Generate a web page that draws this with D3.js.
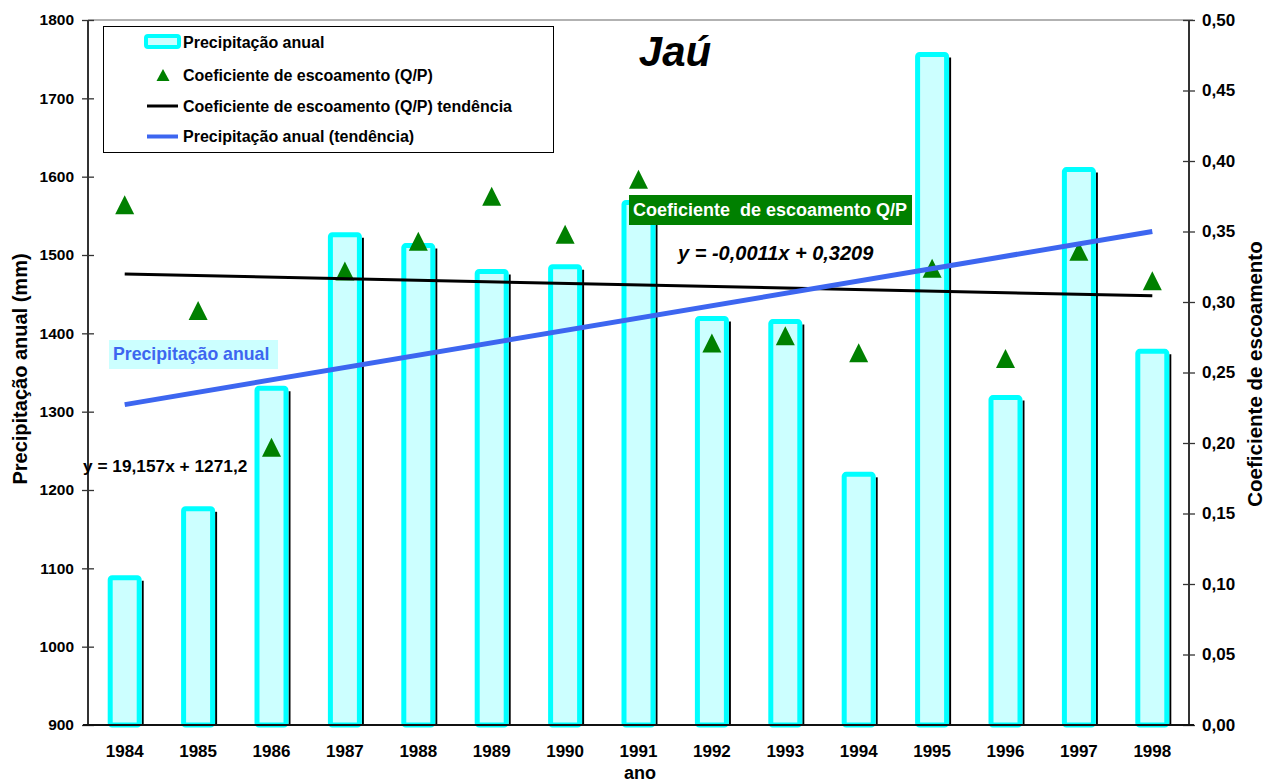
<!DOCTYPE html>
<html><head><meta charset="utf-8">
<script src="https://cdn.jsdelivr.net/npm/d3@7"></script>
<style>
body{margin:0;background:#fff}
svg{display:block;font-family:"Liberation Sans",Arial,sans-serif;font-weight:bold}
</style>
</head><body>
<svg id="chart" width="1266" height="784"></svg>
<script>
// ---- data ----
const years = [1984,1985,1986,1987,1988,1989,1990,1991,1992,1993,1994,1995,1996,1997,1998];
const precipitation = [1088,1176,1330,1526,1512,1479,1485,1567,1419,1415,1220,1756,1318,1609,1377];
const coefficient = [0.369,0.294,0.197,0.322,0.343,0.375,0.348,0.387,0.271,0.276,0.264,0.324,0.260,0.336,0.315];
const precipTicks = [900,1000,1100,1200,1300,1400,1500,1600,1700,1800];
const coefTicks = [0,0.05,0.10,0.15,0.20,0.25,0.30,0.35,0.40,0.45,0.50];
const coefTrendSlope = -0.0011, coefTrendIntercept = 0.3209;
const precipTrendEnds = [1309, 1530];   // trend line as drawn (first / last year)
const legendLabels = ["Precipitação anual","Coeficiente de escoamento (Q/P)","Coeficiente de escoamento (Q/P) tendência","Precipitação anual (tendência)"];

// ---- layout ----
const L = 88, R = 1189, T = 20, B = 725;
const cyan = "#00ffff", lightCyan = "#ccffff", green = "#008000", blue = "#3d66f0";
const svg = d3.select("#chart");

const x = d3.scaleBand().domain(years).range([L, R]).padding(0);
const yL = d3.scaleLinear().domain([900, 1800]).range([B, T]);
const yR = d3.scaleLinear().domain([0, 0.5]).range([B, T]);
const cx = d => x(d) + x.bandwidth() / 2;
const fmtComma = d => d3.format(".2f")(d).replace(".", ",");

// top border line
svg.append("line").attr("x1", L).attr("x2", R + 4).attr("y1", T).attr("y2", T)
  .attr("stroke", "#999").attr("stroke-width", 1.5);

// bars
const bw = 29;
const bars = svg.append("g");
years.forEach((yr, i) => {
  const v = precipitation[i];
  bars.append("line")
    .attr("x1", cx(yr) + bw / 2 + 3.5).attr("x2", cx(yr) + bw / 2 + 3.5)
    .attr("y1", yL(v) + 3).attr("y2", B)
    .attr("stroke", "#000").attr("stroke-width", 2);
  bars.append("rect")
    .attr("x", cx(yr) - bw / 2).attr("width", bw)
    .attr("y", yL(v)).attr("height", B - yL(v))
    .attr("rx", 2)
    .attr("fill", lightCyan).attr("stroke", cyan).attr("stroke-width", 5);
});

// triangles
const tri = "M0,-9.5L9.5,9.5L-9.5,9.5Z";
svg.append("g").selectAll("path").data(years).join("path")
  .attr("d", tri)
  .attr("transform", (d, i) => `translate(${cx(d)},${yR(coefficient[i])})`)
  .attr("fill", green);

// trend lines
const coefTrend = years.map((d, i) => [d, coefTrendSlope * (i + 1) + coefTrendIntercept]);
svg.append("path")
  .datum([coefTrend[0], coefTrend[coefTrend.length - 1]])
  .attr("d", d3.line().x(d => cx(d[0])).y(d => yR(d[1])))
  .attr("fill", "none").attr("stroke", "#000").attr("stroke-width", 3);
svg.append("path")
  .datum([[years[0], precipTrendEnds[0]], [years[years.length - 1], precipTrendEnds[1]]])
  .attr("d", d3.line().x(d => cx(d[0])).y(d => yL(d[1])))
  .attr("fill", "none").attr("stroke", blue).attr("stroke-width", 5);

// axes
const axL = svg.append("g").attr("transform", `translate(${L},0)`)
  .call(d3.axisLeft(yL).tickValues(precipTicks).tickSize(6).tickPadding(8).tickFormat(d3.format("d")));
const axR = svg.append("g").attr("transform", `translate(${R},0)`)
  .call(d3.axisRight(yR).tickValues(coefTicks).tickSize(6).tickPadding(7).tickFormat(fmtComma));
const axB = svg.append("g").attr("transform", `translate(0,${B})`)
  .call(d3.axisBottom(x).tickSize(0).tickPadding(20));
axL.select(".domain").remove();
axR.select(".domain").remove();
axB.select(".domain").remove();
[axL, axR].forEach(a => {
  a.selectAll(".tick line").attr("stroke", "#333").attr("stroke-width", 1.3).attr("x1", -6).attr("x2", 6);
});
axL.selectAll("text").attr("font-size", 15.5).attr("font-weight", "bold").attr("fill", "#000").attr("font-family", null);
axR.selectAll("text").attr("font-size", 17).attr("font-weight", "bold").attr("fill", "#000").attr("font-family", null);
axB.selectAll("text").attr("font-size", 17).attr("font-weight", "bold").attr("fill", "#000").attr("font-family", null);
svg.append("line").attr("x1", L).attr("x2", L).attr("y1", T).attr("y2", B + 1).attr("stroke", "#333").attr("stroke-width", 2);
svg.append("line").attr("x1", R).attr("x2", R).attr("y1", T).attr("y2", B + 1).attr("stroke", "#333").attr("stroke-width", 2);
svg.append("line").attr("x1", L - 5).attr("x2", R + 5).attr("y1", B).attr("y2", B).attr("stroke", "#111").attr("stroke-width", 2);

// axis titles
svg.append("text").attr("transform", "translate(27,369) rotate(-90)")
  .attr("text-anchor", "middle").attr("font-size", 20).text("Precipitação anual (mm)");
svg.append("text").attr("transform", "translate(1262,374) rotate(-90)")
  .attr("text-anchor", "middle").attr("font-size", 20.5).text("Coeficiente de escoamento");
svg.append("text").attr("x", 640).attr("y", 779).attr("text-anchor", "middle")
  .attr("font-size", 18).text("ano");

// title
svg.append("text").attr("x", 675).attr("y", 66).attr("text-anchor", "middle")
  .attr("font-size", 42).attr("font-style", "italic").text("Jaú");

// annotations
svg.append("rect").attr("x", 629).attr("y", 195).attr("width", 283).attr("height", 30).attr("fill", green);
svg.append("text").attr("x", 633).attr("y", 215.5).attr("font-size", 18).attr("fill", "#fff")
  .style("white-space", "pre").text("Coeficiente  de escoamento Q/P");
svg.append("text").attr("x", 678).attr("y", 260).attr("font-size", 20).attr("font-style", "italic")
  .text("y = -0,0011x + 0,3209");
svg.append("rect").attr("x", 109).attr("y", 340).attr("width", 169).attr("height", 29).attr("fill", lightCyan);
svg.append("text").attr("x", 113).attr("y", 360).attr("font-size", 17.7).attr("fill", blue)
  .text("Precipitação anual");
svg.append("text").attr("x", 83).attr("y", 472).attr("font-size", 17.3)
  .text("y = 19,157x + 1271,2");

// legend
const lg = svg.append("g");
lg.append("rect").attr("x", 103.5).attr("y", 26.5).attr("width", 450).attr("height", 126)
  .attr("fill", "#fff").attr("stroke", "#000").attr("stroke-width", 1);
const rowY = [42.5, 75, 106, 136.5];
lg.append("rect").attr("x", 146).attr("y", 36).attr("width", 33).attr("height", 11).attr("rx", 2)
  .attr("fill", lightCyan).attr("stroke", cyan).attr("stroke-width", 4);
lg.append("path").attr("d", "M0,-6L6.5,6L-6.5,6Z").attr("transform", `translate(163,${rowY[1]})`).attr("fill", green);
lg.append("line").attr("x1", 147).attr("x2", 178).attr("y1", rowY[2]).attr("y2", rowY[2]).attr("stroke", "#000").attr("stroke-width", 3);
lg.append("line").attr("x1", 147).attr("x2", 178).attr("y1", rowY[3]).attr("y2", rowY[3]).attr("stroke", blue).attr("stroke-width", 4);
legendLabels.forEach((t, i) => {
  lg.append("text").attr("x", 183).attr("y", rowY[i] + 5.8).attr("font-size", 16).text(t);
});
</script>
</body></html>
